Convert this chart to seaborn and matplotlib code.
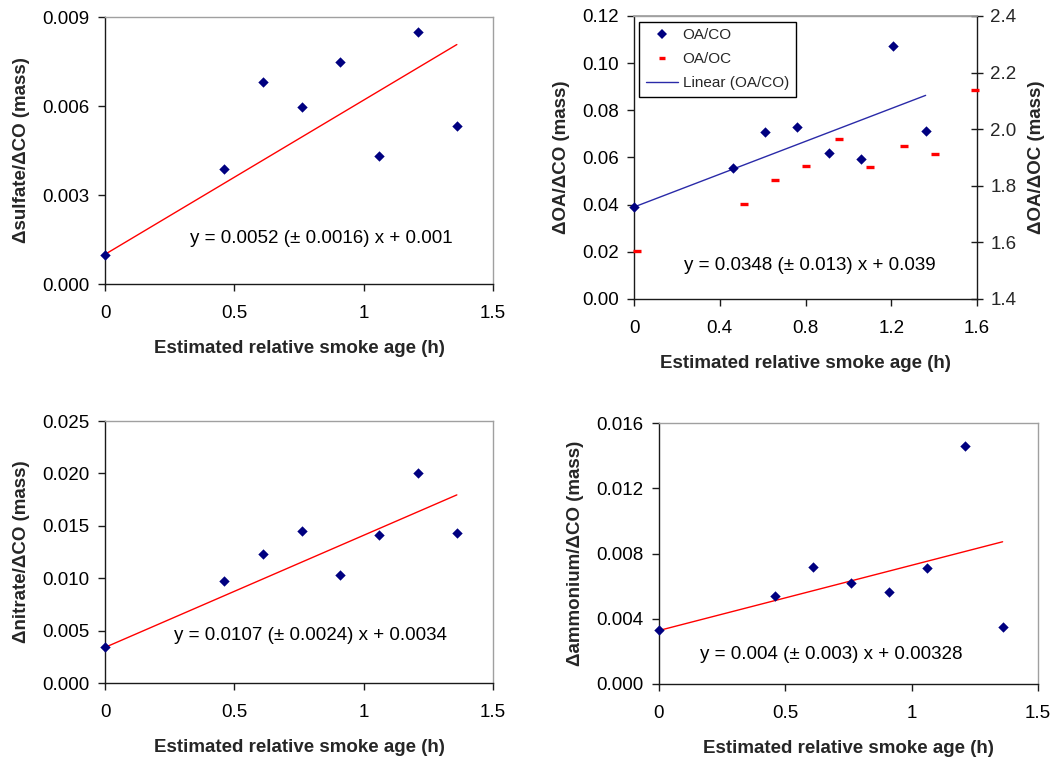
import numpy as np
import pandas as pd
import matplotlib
matplotlib.use("Agg")
import matplotlib.pyplot as plt
import matplotlib.ticker as mticker
from matplotlib.lines import Line2D
import seaborn as sns

# ---------------- data ----------------
age = [0.0, 0.46, 0.61, 0.76, 0.91, 1.06, 1.21, 1.36]
sulfate_co = [0.00097, 0.00387, 0.00680, 0.00596, 0.00747, 0.00432, 0.00849, 0.00533]
nitrate_co = [0.0034, 0.0097, 0.0123, 0.0145, 0.0103, 0.0141, 0.0200, 0.0143]
ammonium_co = [0.00331, 0.00539, 0.00717, 0.00621, 0.00564, 0.00709, 0.01461, 0.00347]
oa_co = [0.0389, 0.0557, 0.0708, 0.0730, 0.0619, 0.0595, 0.1072, 0.0713]
oc_age = [0.014, 0.511, 0.657, 0.803, 0.955, 1.101, 1.257, 1.405, 1.592]
oa_oc = [1.568, 1.737, 1.821, 1.871, 1.964, 1.867, 1.942, 1.914, 2.137]

slopes = {"sulfate": 0.0052, "oa": 0.0348, "nitrate": 0.0107, "ammonium": 0.004}
intercepts = {"sulfate": 0.001, "oa": 0.039, "nitrate": 0.0034, "ammonium": 0.00328}
equations = {
    "sulfate": "y = 0.0052 (\u00b1 0.0016) x + 0.001",
    "oa": "y = 0.0348 (\u00b1 0.013) x + 0.039",
    "nitrate": "y = 0.0107 (\u00b1 0.0024) x + 0.0034",
    "ammonium": "y = 0.004 (\u00b1 0.003) x + 0.00328",
}
xlabel = "Estimated relative smoke age (h)"

# ---------------- style ----------------
sns.set_theme(style="white")
plt.rcParams["font.family"] = ["Liberation Sans", "DejaVu Sans"]
plt.rcParams["axes.unicode_minus"] = False

FS = 13.5
NAVY = "#000080"
RED = "#ff0000"
BLUE_LINE = "#2a2aa8"

fig = plt.figure(figsize=(10.61, 7.60), dpi=100)

def style_axes(ax):
    for s in ["left", "bottom"]:
        ax.spines[s].set_color("#1a1a1a")
        ax.spines[s].set_linewidth(1.0)
    for s in ["top", "right"]:
        ax.spines[s].set_color("#a0a0a0")
        ax.spines[s].set_linewidth(1.0)
    ax.tick_params(axis="both", which="major", direction="out", length=5,
                   width=1, color="#1a1a1a", labelsize=FS, labelcolor="black",
                   bottom=True, left=True, top=False, right=False)
    ax.tick_params(axis="x", pad=10)
    ax.tick_params(axis="y", pad=6)
    ax.grid(False)
    ax.set_facecolor("white")

def panel(rect, y, key, ylab, ylim, yticks, yfmt, xlim, xticks, eqpos,
          line_color=RED):
    ax = fig.add_axes(rect)
    df = pd.DataFrame({"age": age, "val": y})
    sns.scatterplot(data=df, x="age", y="val", ax=ax, marker="D", s=28,
                    color=NAVY, edgecolor=NAVY, linewidth=0, clip_on=False,
                    zorder=3, legend=False)
    xs = np.array([min(age), max(age)])
    fit = pd.DataFrame({"age": xs, "fit": slopes[key] * xs + intercepts[key]})
    sns.lineplot(data=fit, x="age", y="fit", ax=ax, color=line_color,
                 linewidth=1.0, zorder=2, legend=False)
    ax.set_xlim(*xlim)
    ax.set_ylim(*ylim)
    ax.set_xticks(xticks)
    ax.set_yticks(yticks)
    ax.xaxis.set_major_formatter(
        mticker.FuncFormatter(lambda v, p: "%g" % round(v, 3)))
    ax.yaxis.set_major_formatter(mticker.FormatStrFormatter(yfmt))
    ax.set_xlabel(xlabel, fontsize=FS, fontweight="bold", labelpad=13)
    ax.set_ylabel(ylab, fontsize=FS, fontweight="bold", labelpad=9)
    ax.text(eqpos[0], eqpos[1], equations[key], transform=ax.transAxes,
            fontsize=FS, va="center", ha="left", color="black")
    style_axes(ax)
    return ax

# top-left: sulfate
panel([0.0990, 0.6263, 0.3657, 0.3513], sulfate_co, "sulfate",
      "\u0394sulfate/\u0394CO (mass)", (0, 0.009),
      [0, 0.003, 0.006, 0.009], "%.3f", (0, 1.5), [0, 0.5, 1, 1.5],
      (0.219, 0.172))

# bottom-left: nitrate
panel([0.0990, 0.1013, 0.3657, 0.3447], nitrate_co, "nitrate",
      "\u0394nitrate/\u0394CO (mass)", (0, 0.025),
      [0, 0.005, 0.010, 0.015, 0.020, 0.025], "%.3f", (0, 1.5),
      [0, 0.5, 1, 1.5], (0.178, 0.181))

# bottom-right: ammonium
panel([0.6211, 0.1000, 0.3572, 0.3434], ammonium_co, "ammonium",
      "\u0394ammonium/\u0394CO (mass)", (0, 0.016),
      [0, 0.004, 0.008, 0.012, 0.016], "%.3f", (0, 1.5),
      [0, 0.5, 1, 1.5], (0.108, 0.112))

# top-right: OA/CO with twin OA/OC
ax = panel([0.5976, 0.6066, 0.3233, 0.3724], oa_co, "oa",
           "\u0394OA/\u0394CO (mass)", (0, 0.12),
           [0, 0.02, 0.04, 0.06, 0.08, 0.10, 0.12], "%.2f", (0, 1.6),
           [0, 0.4, 0.8, 1.2, 1.6], (0.146, 0.118), line_color=BLUE_LINE)
ax2 = ax.twinx()
dfoc = pd.DataFrame({"age": oc_age, "val": oa_oc})
sns.scatterplot(data=dfoc, x="age", y="val", ax=ax2, marker="_", s=33,
                color=RED, linewidth=2.4, clip_on=False, zorder=3, legend=False)
ax2.set_ylim(1.4, 2.4)
ax2.set_yticks([1.4, 1.6, 1.8, 2.0, 2.2, 2.4])
ax2.yaxis.set_major_formatter(mticker.FormatStrFormatter("%.1f"))
ax2.set_ylabel("\u0394OA/\u0394OC (mass)", fontsize=FS, fontweight="bold",
               labelpad=8, rotation=90)
ax2.grid(False)
for s in ["left", "bottom"]:
    ax2.spines[s].set_visible(False)
ax2.spines["top"].set_color("#a0a0a0")
ax2.spines["right"].set_color("#1a1a1a")
ax2.spines["right"].set_linewidth(1.0)
ax.spines["right"].set_visible(False)
ax2.tick_params(axis="y", direction="inout", length=9, width=1,
                color="#1a1a1a", labelsize=FS, pad=5, right=True, left=False)

handles = [
    Line2D([], [], linestyle="none", marker="D", markersize=5.3,
           markerfacecolor=NAVY, markeredgecolor=NAVY, markeredgewidth=0),
    Line2D([], [], linestyle="none", marker="_", markersize=5,
           markeredgecolor=RED, markeredgewidth=2.4),
    Line2D([], [], color=BLUE_LINE, linewidth=1.0),
]
leg = ax2.legend(handles, ["OA/CO", "OA/OC", "Linear (OA/CO)"],
                 loc="upper left", bbox_to_anchor=(0.015, 0.98),
                 borderaxespad=0, fontsize=11, frameon=True, fancybox=False,
                 shadow=False, handlelength=2.1, handletextpad=0.3,
                 labelspacing=0.65, borderpad=0.45)
leg.get_frame().set_edgecolor("black")
leg.get_frame().set_linewidth(1.0)
leg.get_frame().set_alpha(1)

fig.savefig("out.png", dpi=100, facecolor="white")
